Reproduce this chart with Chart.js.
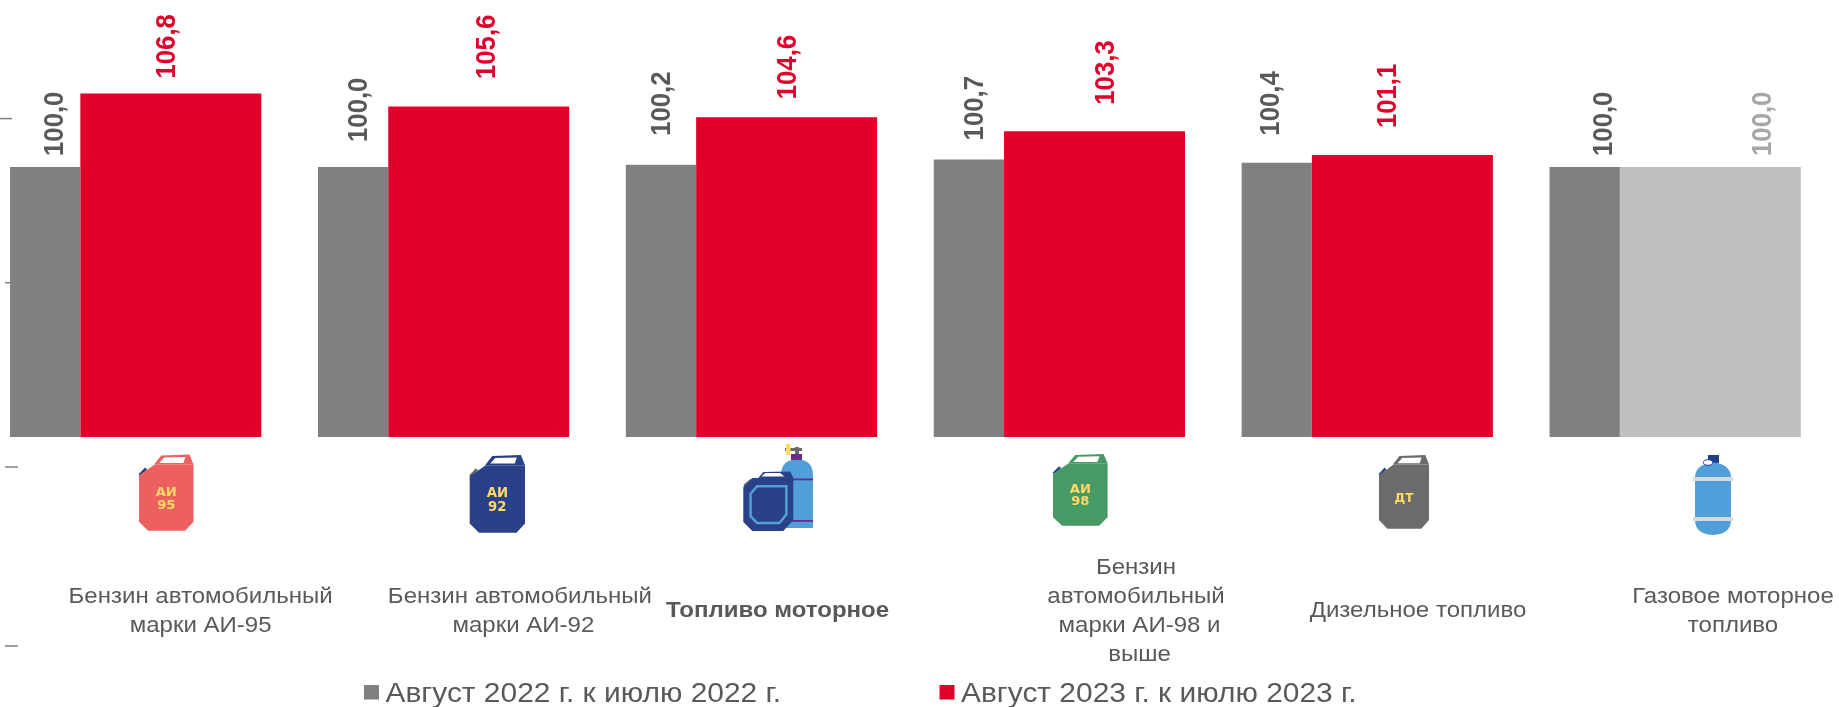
<!DOCTYPE html>
<html>
<head>
<meta charset="utf-8">
<title>Топливо моторное</title>
<script src="https://cdn.jsdelivr.net/npm/chart.js@4/dist/chart.umd.min.js"></script>
<style>
  html, body { margin: 0; padding: 0; background: #fff; }
  canvas { display: block; }
</style>
</head>
<body>
<canvas id="grafico" width="1839" height="707"></canvas>
<script>
const categorias = [
    ['Бензин автомобильный', 'марки АИ-95'],
    ['Бензин автомобильный', 'марки АИ-92'],
    ['Топливо моторное'],
    ['Бензин', 'автомобильный', 'марки АИ-98 и', 'выше'],
    ['Дизельное топливо'],
    ['Газовое моторное', 'топливо']
];
const serie2022 = [100.0, 100.0, 100.2, 100.7, 100.4, 100.0];
const serie2023 = [106.8, 105.6, 104.6, 103.3, 101.1, 100.0];
const nombre2022 = 'Август 2022 г. к июлю 2022 г.';
const nombre2023 = 'Август 2023 г. к июлю 2023 г.';

const GRIS = '#808080';
const ROJO = '#e1002a';
const GRIS_CLARO = '#bfbfbf';
const TEXTO = '#595959';
const FUENTE = '"Liberation Sans", Arial, sans-serif';

// hand placed in the original, so every label has its own shift
const labelGris = { dx: [10, 6, 1, 6, -5, 19.5], gap: [11, 25, 29, 19, 27, 11] };
const labelRojo = { dx: [-3.5, 9, 2, 12, -14, 52.5], gap: [15, 27.5, 18, 26.6, 27, 11] };
const coloresLabelRojo = [ROJO, ROJO, ROJO, ROJO, ROJO, '#a6a6a6'];
const dxCategoria = [92.6, 104, 53.8, 104.3, 78.4, 85.5];
const dxLinea = { '1-1': 3.5, '3-2': 3.5, '3-3': 3.5 };
const marcasIzq = [[0, 12, 118.6], [5, 12, 282.7], [5, 18, 467], [5, 18, 646]];

const poly = (ctx, pts, color) => {
    ctx.fillStyle = color;
    ctx.beginPath();
    pts.forEach((p, i) => i ? ctx.lineTo(p[0], p[1]) : ctx.moveTo(p[0], p[1]));
    ctx.closePath();
    ctx.fill();
};

// jerry can, drawn in a 54x77 box
const bidon = (ctx, x, y, w, h, color, tapa, texto) => {
    ctx.save();
    ctx.translate(x, y);
    ctx.scale(w / 54, h / 77);
    poly(ctx, [[-0.5, 20], [6, 13], [8, 15], [1.5, 22]], tapa);
    poly(ctx, [[15, 10], [22, 1], [50, 0], [54, 10]], color);
    poly(ctx, [[20, 8.5], [25, 3], [46, 2.5], [44, 8.5]], '#ffffff');
    poly(ctx, [[0, 21], [15.7, 10], [54, 10], [54, 67.7], [45.7, 76.7], [9, 76.7], [0, 67.7]], color);
    ctx.fillStyle = '#ffd966';
    ctx.font = 'bold 13px "DejaVu Sans", sans-serif';
    ctx.textAlign = 'center';
    ctx.textBaseline = 'alphabetic';
    texto.forEach((t, i) => ctx.fillText(t, 27, (texto.length > 1 ? 41.5 : 49) + i * 13.5));
    ctx.restore();
};

const iconos = (ctx, x) => {
    bidon(ctx, x[0] + 31, 454.5, 54.5, 76.5, '#ec6060', '#2a4089', ['АИ', '95']);
    bidon(ctx, x[1] + 53.8, 455, 55.3, 78, '#2a4089', '#6b6b6b', ['АИ', '92']);

    // canister and cylinder
    const c = x[2];
    const bx = c + 57.2;
    ctx.fillStyle = '#509fd9';
    ctx.beginPath();
    ctx.moveTo(bx, 528);
    ctx.lineTo(bx, 475);
    ctx.quadraticCurveTo(bx, 460, bx + 16, 459);
    ctx.quadraticCurveTo(bx + 32, 460, bx + 32, 475);
    ctx.lineTo(bx + 32, 528);
    ctx.closePath();
    ctx.fill();
    ctx.fillStyle = '#6a2c91';
    ctx.fillRect(bx + 10, 454, 11, 6);
    ctx.fillRect(bx, 478.5, 32, 1.8);
    ctx.fillRect(bx, 520, 32, 1.8);
    ctx.fillStyle = '#6b6b6b';
    ctx.fillRect(bx + 4, 448, 17, 3);
    ctx.fillRect(bx + 14, 447, 4, 7);
    ctx.fillStyle = '#ffd966';
    ctx.fillRect(bx + 5, 444, 4.5, 11);

    const jx = c + 19.5;
    poly(ctx, [[jx, 485], [jx + 7, 479], [jx + 9, 481], [jx + 2, 487]], '#6b6b6b');
    poly(ctx, [[jx + 15, 478], [jx + 20, 472], [jx + 47, 471.5], [jx + 50, 478]], '#2a4089');
    poly(ctx, [[jx + 18, 476.5], [jx + 22, 473], [jx + 37, 473], [jx + 41, 476.5]], '#ffffff');
    poly(ctx, [[jx, 487], [jx + 9, 478], [jx + 50, 478], [jx + 50, 520], [jx + 40, 531], [jx + 9, 531], [jx, 522]], '#2a4089');
    poly(ctx, [[jx + 6, 493.3], [jx + 13.3, 485], [jx + 44.3, 485], [jx + 44.3, 515], [jx + 36.7, 524.3], [jx + 13.3, 524.3], [jx + 6, 516.7]], '#509fd9');
    poly(ctx, [[jx + 8.5, 494.3], [jx + 14.3, 487.5], [jx + 41.8, 487.5], [jx + 41.8, 514], [jx + 35.7, 521.8], [jx + 14.3, 521.8], [jx + 8.5, 515.7]], '#2a4089');

    bidon(ctx, x[3] + 21.3, 454, 54.6, 72, '#479a66', '#2a4089', ['АИ', '98']);
    bidon(ctx, x[4] + 39.4, 455, 50, 74, '#6b6b6b', '#2a4089', ['ДТ']);

    // gas cylinder
    const gx = x[5] + 47.5;
    ctx.fillStyle = '#1f3f8a';
    ctx.fillRect(gx + 13, 455, 11, 8);
    ctx.fillStyle = '#509fd9';
    ctx.beginPath();
    ctx.moveTo(gx, 478);
    ctx.quadraticCurveTo(gx, 464, gx + 18, 462.5);
    ctx.quadraticCurveTo(gx + 36, 464, gx + 36, 478);
    ctx.lineTo(gx + 36, 520);
    ctx.quadraticCurveTo(gx + 36, 534, gx + 18, 535);
    ctx.quadraticCurveTo(gx, 534, gx, 520);
    ctx.closePath();
    ctx.fill();
    ctx.fillStyle = '#d9d9d9';
    ctx.fillRect(gx - 2, 477, 40, 4);
    ctx.fillRect(gx - 2, 517, 40, 4);
    ctx.fillStyle = '#ffffff';
    ctx.strokeStyle = '#2a4089';
    ctx.lineWidth = 1;
    ctx.beginPath();
    ctx.ellipse(gx + 13, 462.5, 4.5, 2.8, 0, 0, Math.PI * 2);
    ctx.fill();
    ctx.stroke();
};

const etiquetaRotada = (ctx, texto, x, y, color) => {
    ctx.save();
    ctx.translate(x, y);
    ctx.rotate(-Math.PI / 2);
    ctx.scale(1.03, 1.12);
    ctx.font = 'bold 25px ' + FUENTE;
    ctx.fillStyle = color;
    ctx.textAlign = 'left';
    ctx.textBaseline = 'middle';
    ctx.fillText(texto, 0, 0);
    ctx.restore();
};

// text is a bit wider than the font in the original
const textoAncho = (ctx, texto, x, y, ancho) => {
    ctx.save();
    ctx.translate(x, y);
    ctx.scale(ancho, 1);
    ctx.fillText(texto, 0, 0);
    ctx.restore();
};

const leyenda = (ctx, texto, x, color) => {
    ctx.fillStyle = color;
    ctx.fillRect(x, 685, 15, 14.5);
    ctx.fillStyle = TEXTO;
    ctx.font = '27px ' + FUENTE;
    ctx.textAlign = 'left';
    ctx.textBaseline = 'alphabetic';
    textoAncho(ctx, texto, x + 21.5, 702, 1.108);
};

const decoracion = {
    id: 'decoracion',
    afterDatasetsDraw(chart) {
        const ctx = chart.ctx;
        const barrasGris = chart.getDatasetMeta(0).data;
        const barrasRojo = chart.getDatasetMeta(1).data;

        ctx.fillStyle = '#7f7f7f';
        marcasIzq.forEach(m => ctx.fillRect(m[0], m[2] - 0.75, m[1] - m[0], 1.5));

        serie2022.forEach((v, i) => {
            const b = barrasGris[i];
            etiquetaRotada(ctx, v.toFixed(1).replace('.', ','), b.x + labelGris.dx[i], b.y - labelGris.gap[i], TEXTO);
        });
        serie2023.forEach((v, i) => {
            const b = barrasRojo[i];
            etiquetaRotada(ctx, v.toFixed(1).replace('.', ','), b.x + labelRojo.dx[i], b.y - labelRojo.gap[i], coloresLabelRojo[i]);
        });

        const centros = categorias.map((c, i) => chart.scales.x.getPixelForValue(i));
        categorias.forEach((lineas, i) => {
            ctx.fillStyle = TEXTO;
            ctx.font = (i === 2 ? 'bold ' : '') + '22.5px ' + FUENTE;
            ctx.textAlign = 'center';
            ctx.textBaseline = 'alphabetic';
            lineas.forEach((t, j) => {
                const x = centros[i] + dxCategoria[i] + (dxLinea[i + '-' + j] || 0);
                textoAncho(ctx, t, x, 617 - (lineas.length - 1) * 14.5 + j * 29, 1.068);
            });
        });

        iconos(ctx, centros);
        leyenda(ctx, nombre2022, 364, GRIS);
        leyenda(ctx, nombre2023, 939.5, ROJO);
    }
};

new Chart(document.getElementById('grafico'), {
    type: 'bar',
    data: {
        datasets: [
            {
                label: nombre2022,
                data: serie2022.map((y, x) => ({ x, y })),
                backgroundColor: GRIS,
                barPercentage: 0.5595
            },
            {
                label: nombre2023,
                data: serie2023.map((y, x) => ({ x, y })),
                backgroundColor: [ROJO, ROJO, ROJO, ROJO, ROJO, GRIS_CLARO],
                barPercentage: 1.4405
            }
        ]
    },
    options: {
        responsive: false,
        animation: false,
        layout: { padding: { top: 5, bottom: 270 } },
        plugins: { legend: { display: false }, tooltip: { enabled: false } },
        datasets: { bar: { categoryPercentage: 0.816 } },
        scales: {
            // the first group starts near the edge, the picture is cropped on the left
            x: {
                type: 'linear',
                display: false,
                offset: false,
                min: -0.3508,
                max: 5.622,
                ticks: { stepSize: 1, includeBounds: false }
            },
            y: { display: false, min: 75, max: 115 }
        }
    },
    plugins: [decoracion]
});
</script>
</body>
</html>
